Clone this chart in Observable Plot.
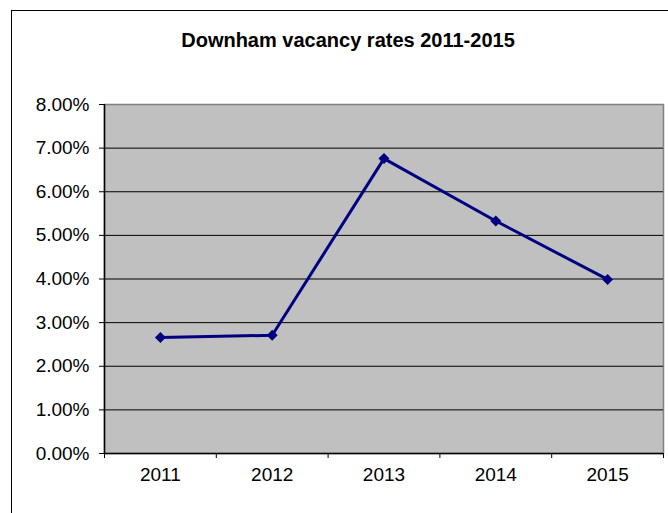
<!DOCTYPE html>
<html>
<head>
<meta charset="utf-8">
<script src="https://cdn.jsdelivr.net/npm/d3@7"></script>
<script src="https://cdn.jsdelivr.net/npm/@observablehq/plot@0.6"></script>
<style>
  html, body { margin: 0; padding: 0; background: #fff; overflow: hidden; }
  #wrap { position: relative; width: 668px; height: 513px; overflow: hidden; font-family: "Liberation Sans", Arial, sans-serif; }
  #border { position: absolute; left: 11px; top: 10px; width: 680px; height: 520px; border: 1px solid #000; box-sizing: border-box; }
  #title { position: absolute; left: 0; top: 29px; width: 696px; text-align: center; font-weight: bold; font-size: 20px; color: #000; }
  #chart { position: absolute; left: 0; top: 0; }
</style>
</head>
<body>
<div id="wrap">
  <div id="border"></div>
  <div id="title">Downham vacancy rates 2011-2015</div>
  <div id="chart"></div>
</div>
<script>
const years = [2011, 2012, 2013, 2014, 2015];
const rates = [0.0266, 0.0271, 0.0676, 0.0533, 0.0399];
const yTicks = [0, 0.01, 0.02, 0.03, 0.04, 0.05, 0.06, 0.07, 0.08];

const data = years.map((y, i) => ({year: y, rate: rates[i]}));
const boundaries = [years[0] - 0.5, ...years.map(y => y + 0.5)];

const chart = Plot.plot({
  width: 668,
  height: 513,
  marginLeft: 104,
  marginRight: 5,
  marginTop: 104,
  marginBottom: 60,
  style: {fontFamily: "'Liberation Sans', Arial, sans-serif", fontSize: "19px", color: "#000", background: "transparent"},
  x: {type: "linear", domain: [years[0] - 0.5, years[years.length - 1] + 0.5]},
  y: {domain: [0, 0.08]},
  marks: [
    Plot.frame({fill: "#c0c0c0", stroke: "#808080", strokeWidth: 1.5}),
    Plot.ruleY(yTicks.slice(1, -1), {stroke: "#000", strokeWidth: 1}),
    Plot.axisY(yTicks, {tickFormat: d3.format(".2%"), tickSize: 5, tickPadding: 10, stroke: "#000", strokeOpacity: 1, label: null}),
    Plot.axisX(boundaries, {tickSize: 5, tickFormat: () => "", stroke: "#000", strokeOpacity: 1, label: null}),
    Plot.axisX(years, {tickSize: 0, tickPadding: 14, tickFormat: d => String(d), label: null}),
    Plot.ruleX([boundaries[0]], {stroke: "#000", strokeWidth: 1.5}),
    Plot.ruleY([0], {stroke: "#000", strokeWidth: 1.5}),
    Plot.line(data, {x: "year", y: "rate", stroke: "#000080", strokeWidth: 3}),
    Plot.dot(data, {x: "year", y: "rate", symbol: "diamond2", r: 4, fill: "#000080", stroke: "#000080"})
  ]
});
document.getElementById("chart").appendChild(chart);
</script>
</body>
</html>
